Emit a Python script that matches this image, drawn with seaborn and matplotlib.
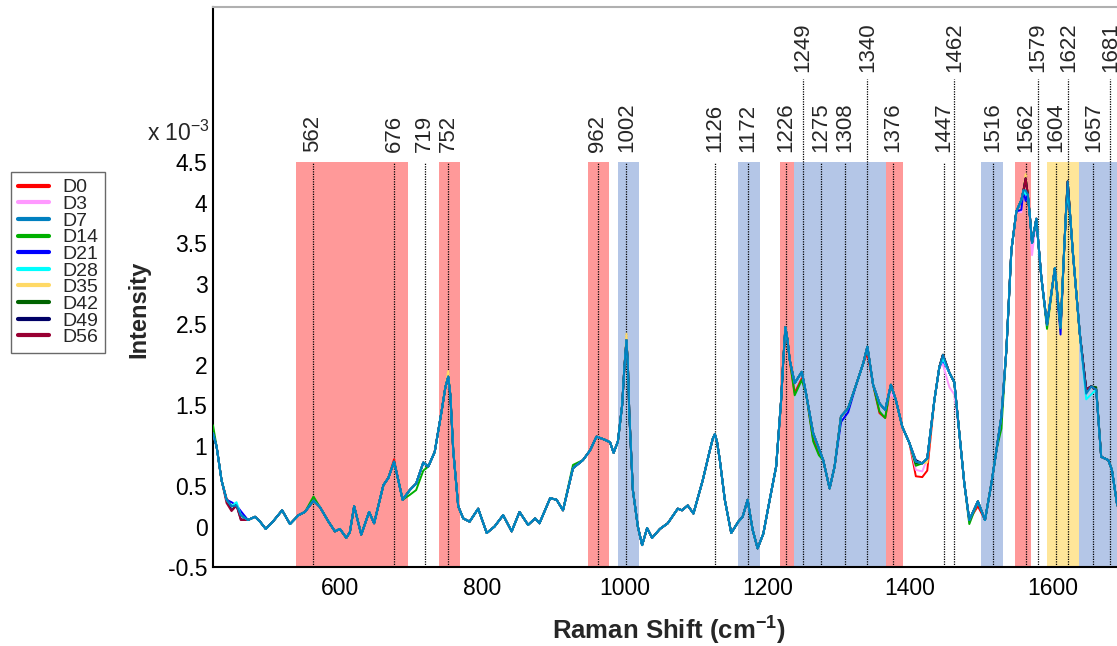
import pandas as pd
import seaborn as sns
import matplotlib.pyplot as plt
from matplotlib.lines import Line2D

# Raman shift grid (cm-1) and the mean spectrum (x 10^-3)
shift = [422, 427, 434, 441, 448, 455, 461, 471, 481, 488, 496, 506, 519, 530, 542, 551,
         563, 572, 584, 593, 600, 609, 614, 620, 630, 641, 648, 661, 668, 676, 682, 688,
         698, 707, 717, 724, 733, 743, 748, 752, 755, 759, 766, 773, 782, 794, 806, 817, 829, 841,
         852, 864, 874, 880, 895, 904, 913, 927, 941, 951, 960, 972, 979, 984, 990, 996, 999,
         1002, 1004, 1006, 1011, 1018, 1024, 1031, 1038, 1049, 1060, 1074, 1080, 1088, 1096, 1109,
         1119, 1123, 1126, 1129, 1133, 1140, 1149, 1159, 1165, 1172, 1179, 1186, 1194, 1203, 1212, 1219,
         1222, 1225, 1228, 1231, 1238, 1248, 1254, 1264, 1272, 1278, 1287, 1294, 1303, 1313, 1325, 1334,
         1340, 1348, 1357, 1365, 1373, 1380, 1389, 1399, 1408, 1417, 1424, 1434, 1441, 1446,
         1455, 1462, 1469, 1476, 1483, 1495, 1505, 1514, 1521, 1528, 1535, 1542, 1549, 1556, 1559,
         1562, 1565, 1568, 1571, 1577, 1584, 1592, 1603, 1611, 1616, 1619, 1621, 1624, 1628, 1638, 1647, 1654,
         1661, 1668, 1678, 1683, 1690, 1700]
base = [1.15, 0.99, 0.57, 0.33, 0.25, 0.26, 0.14, 0.08, 0.12, 0.06, -0.03, 0.06, 0.20, 0.03, 0.14, 0.18,
        0.32, 0.24, 0.06, -0.06, -0.03, -0.14, -0.07, 0.25, -0.10, 0.18, 0.04, 0.51, 0.60, 0.80, 0.57, 0.33,
        0.45, 0.53, 0.79, 0.74, 0.92, 1.44, 1.72, 1.85, 1.62, 0.94, 0.25, 0.10, 0.06, 0.22, -0.08, 0.00, 0.14, -0.06,
        0.18, 0.02, 0.10, 0.04, 0.35, 0.33, 0.20, 0.72, 0.82, 0.94, 1.11, 1.07, 1.04, 0.91, 1.05, 1.50, 1.95,
        2.30, 2.00, 1.40, 0.45, 0.00, -0.23, -0.02, -0.14, -0.03, 0.04, 0.22, 0.20, 0.26, 0.16, 0.57,
        0.94, 1.08, 1.14, 1.05, 0.82, 0.33, -0.08, 0.06, 0.12, 0.33, -0.04, -0.27, -0.09, 0.33, 0.74, 1.56,
        2.05, 2.46, 2.30, 2.06, 1.77, 1.91, 1.64, 1.15, 0.96, 0.82, 0.47, 0.74, 1.36, 1.46, 1.77, 2.01,
        2.22, 1.75, 1.52, 1.44, 1.75, 1.56, 1.23, 1.03, 0.80, 0.78, 0.84, 1.56, 1.97, 2.12,
        1.90, 1.78, 1.15, 0.53, 0.08, 0.31, 0.08, 0.53, 0.94, 1.36, 2.18, 3.41, 3.89, 4.03, 4.15,
        4.30, 4.10, 3.83, 3.50, 3.80, 3.08, 2.49, 3.19, 2.45, 3.41, 3.95, 4.26, 3.90, 3.41, 2.38, 1.69, 1.73,
        1.69, 0.86, 0.82, 0.70, 0.29, 0.00]

days = ["D0", "D3", "D7", "D14", "D21", "D28", "D35", "D42", "D49", "D56"]
day_colors = ["#ff0000", "#ff99ff", "#0080c0", "#00b000", "#0000ff",
              "#00ffff", "#ffd966", "#006400", "#000066", "#990033"]
# order the spectra are stacked in (last one on top)
draw_order = ["D0", "D3", "D14", "D35", "D21", "D42", "D49", "D56", "D28", "D7"]

# where a day's spectrum departs from the mean (shift: difference)
dev = {
    "D0": {441: 0.02, 676: 0.03, 1238: -0.12, 1248: -0.08, 1264: -0.08, 1272: -0.06, 1340: -0.08,
           1357: -0.12, 1365: -0.10, 1408: -0.18, 1417: -0.17, 1424: -0.15, 1495: -0.06},
    "D3": {461: 0.05, 1373: -0.10, 1408: -0.10, 1417: -0.10, 1446: -0.12, 1455: -0.18, 1462: -0.15,
           1483: -0.04, 1556: -0.15, 1562: -0.25, 1571: -0.15},
    "D7": {1562: -0.15, 1647: -0.05},
    "D14": {422: 0.10, 563: 0.05, 698: -0.06, 707: -0.08, 717: -0.10, 927: 0.04, 1238: -0.15,
            1248: -0.10, 1264: -0.10, 1272: -0.08, 1357: -0.10, 1365: -0.10, 1408: -0.05,
            1483: -0.05, 1528: -0.15, 1592: -0.05},
    "D21": {448: 0.05, 461: 0.05, 1303: -0.07, 1313: -0.05, 1446: -0.07, 1556: -0.12, 1562: -0.28,
            1611: -0.08, 1621: -0.25},
    "D28": {455: 0.04, 1446: -0.05, 1562: -0.20, 1621: -0.15, 1647: -0.12, 1654: -0.10},
    "D35": {752: 0.07, 1002: 0.08, 1424: -0.05, 1562: 0.05, 1611: 0.03},
    "D42": {1408: -0.02, 1661: 0.03},
    "D49": {448: -0.05, 461: -0.05, 1408: 0.02},
    "D56": {441: -0.04, 448: -0.06, 461: -0.06},
}

red_bands = [(539, 696), (739, 768), (948, 977), (1218, 1237), (1366, 1390), (1547, 1569)]
blue_bands = [(990, 1019), (1159, 1189), (1237, 1366), (1500, 1530), (1637, 1760)]
yellow_bands = [(1592, 1637)]
low_peaks = [562, 676, 719, 752, 962, 1002, 1126, 1172, 1226, 1275, 1308, 1376, 1447,
             1516, 1562, 1604, 1657]
high_peaks = [1249, 1340, 1462, 1579, 1622, 1681]

sns.set_theme(style="white")
plt.rcParams["font.family"] = ["Liberation Sans", "DejaVu Sans"]
plt.rcParams["mathtext.fontset"] = "custom"
plt.rcParams["mathtext.rm"] = "Liberation Sans"
plt.rcParams["mathtext.bf"] = "Liberation Sans:bold"

rows = []
for d in days:
    for x, y in zip(shift, base):
        rows.append((d, x, y + dev[d].get(x, 0.0)))
df = pd.DataFrame(rows, columns=["day", "shift", "intensity"])

fig = plt.figure(figsize=(11.17, 6.46), dpi=100)
ax = fig.add_axes([213 / 1117, 79 / 646, 911 / 1117, 560 / 646])

for bands, col in [(red_bands, "#ff9999"), (blue_bands, "#b4c6e7"), (yellow_bands, "#ffe699")]:
    for a, b in bands:
        ax.fill_between([a, b], -0.5, 4.5, color=col, lw=0, zorder=0)

for p in low_peaks:
    ax.plot([p, p], [-0.5, 4.5], ls=(0, (1, 1)), color="black", lw=0.9, zorder=1)
    ax.text(p, 4.62, str(p), rotation=90, ha="center", va="bottom", fontsize=16, clip_on=False)
for p in high_peaks:
    ax.plot([p, p], [-0.5, 5.52], ls=(0, (1, 1)), color="black", lw=0.9, zorder=1)
    ax.text(p, 5.61, str(p), rotation=90, ha="center", va="bottom", fontsize=16, clip_on=False)

sns.lineplot(data=df, x="shift", y="intensity", hue="day", hue_order=draw_order,
             palette=dict(zip(days, day_colors)), lw=1.4, legend=False, ax=ax, zorder=3)

ax.set_xlim(422, 1700)
ax.set_ylim(-0.5, 6.414)
ax.set_xticks([600, 800, 1000, 1200, 1400, 1600])
yt = [-0.5, 0, 0.5, 1, 1.5, 2, 2.5, 3, 3.5, 4, 4.5]
ax.set_yticks(yt)
ax.set_yticklabels([f"{v:g}" for v in yt])
ax.tick_params(axis="x", direction="out", length=4.5, width=1.2, labelsize=16.5, pad=3)
ax.tick_params(axis="y", direction="in", length=8, width=1.2, labelsize=16.5, pad=4)
ax.tick_params(axis="both", colors="black", labelcolor="black")

for s in ["left", "bottom"]:
    ax.spines[s].set_color("black")
    ax.spines[s].set_linewidth(1.5)
ax.spines["top"].set_color("#b0b0b0")
ax.spines["top"].set_linewidth(1.5)
ax.spines["right"].set_visible(False)

ax.set_xlabel(r"Raman Shift (cm$^{\mathbf{-1}}$)", fontsize=18.5, fontweight="bold", labelpad=9)
ax.set_ylabel("Intensity", fontsize=17, fontweight="bold")
ax.yaxis.set_label_coords(-0.069, 0.46)

fig.text(210 / 1117, 1 - 133 / 646, r"x 10$^{\mathregular{-3}}$", ha="right", va="center", fontsize=16.5)

handles = [Line2D([], [], color=c, lw=3) for c in day_colors]
leg = fig.legend(handles, days, loc="upper left", bbox_to_anchor=(11 / 1117, 1 - 172 / 646),
                 frameon=True, fancybox=False, edgecolor="#444444", fontsize=14,
                 handlelength=1.6, handletextpad=0.7, labelspacing=-0.05, borderpad=0.35,
                 borderaxespad=0)
leg.get_frame().set_linewidth(1.0)

fig.savefig("out.png", dpi=100)
